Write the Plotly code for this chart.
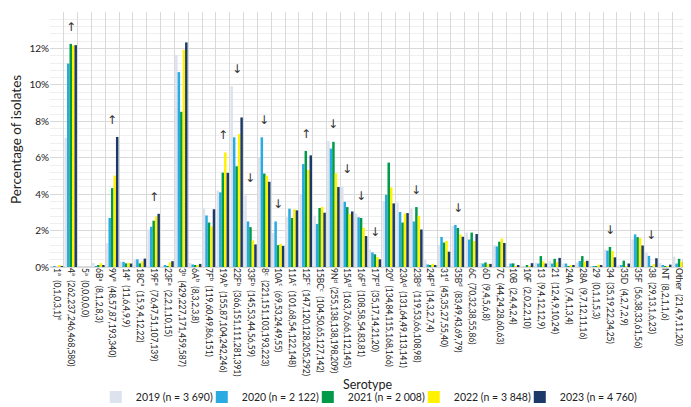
import plotly.graph_objects as go

# serotype names (with footnote letters) and the isolate counts shown in the labels
serotypes = [
    "1<sup>a</sup>", "4<sup>a</sup>", "5<sup>a</sup>", "6B<sup>a</sup>", "9V<sup>a</sup>",
    "14<sup>a</sup>", "18C<sup>a</sup>", "19F<sup>a</sup>", "23F<sup>a</sup>",
    "3<sup>b</sup>", "6A<sup>b</sup>", "7F<sup>b</sup>", "19A<sup>b</sup>", "22F<sup>b</sup>",
    "33F<sup>b</sup>", "8<sup>c</sup>", "10A<sup>c</sup>", "11A<sup>c</sup>", "12F<sup>c</sup>",
    "15BC<sup>c</sup>", "9N<sup>d</sup>", "15A<sup>d</sup>", "16F<sup>d</sup>", "17F<sup>d</sup>",
    "20<sup>d</sup>", "23A<sup>d</sup>", "23B<sup>d</sup>", "24F<sup>d</sup>", "31<sup>d</sup>",
    "35B<sup>d</sup>", "6C", "6D", "7C", "10B", "10F", "13", "21", "24A", "28A", "29",
    "34", "35D", "35F", "38", "NT", "Other",
]
counts = [
    "(0,1,0,3,1)<sup>e</sup>", "(262,237,246,468,580)", "(0,0,0,0,0)", "(8,1,2,8,3)",
    "(48,57,87,193,340)", "(11,6,4,9,9)", "(15,9,4,12,22)", "(76,47,51,107,139)",
    "(2,2,1,10,15)", "(429,227,171,459,587)", "(8,3,2,3,8)", "(119,60,49,86,151)",
    "(155,87,104,242,246)", "(366,151,111,281,391)", "(145,53,44,56,59)",
    "(221,151,103,193,223)", "(69,53,24,49,55)", "(101,68,54,122,148)",
    "(147,120,128,205,292)", "(104,50,65,127,142)", "(255,138,138,198,209)",
    "(163,76,66,112,145)", "(108,58,54,83,81)", "(35,17,14,21,20)",
    "(134,84,115,168,166)", "(131,64,49,113,141)", "(119,53,66,108,98)",
    "(14,3,2,7,4)", "(45,35,27,55,40)", "(83,49,43,69,79)", "(70,32,38,55,86)",
    "(9,4,5,6,8)", "(44,24,28,60,63)", "(2,4,4,2,4)", "(2,0,2,2,10)", "(9,4,12,12,9)",
    "(12,4,9,10,24)", "(7,4,1,3,4)", "(9,7,12,11,16)", "(0,1,1,5,3)",
    "(35,19,22,34,25)", "(4,2,7,2,9)", "(56,38,33,61,56)", "(29,13,1,6,23)",
    "(8,2,1,1,6)", "(21,4,9,11,20)",
]
# trend marker shown above some groups
trend = [
    "", "up", "", "", "up", "", "", "up", "", "", "", "", "up", "down", "down",
    "down", "down", "", "up", "", "down", "down", "down", "down", "", "", "down",
    "", "", "down", "", "", "", "", "", "", "", "", "", "", "down", "", "", "down",
    "", "",
]

# percentage of isolates per year
pct_2019 = [0.00, 7.10, 0.00, 0.22, 1.30, 0.30, 0.41, 2.06, 0.05, 11.63, 0.22, 3.22,
            4.20, 9.92, 3.93, 5.99, 1.87, 2.74, 3.98, 2.82, 6.91, 4.42, 2.93, 0.95,
            3.63, 3.55, 3.22, 0.38, 1.22, 2.25, 1.90, 0.24, 1.19, 0.05, 0.05, 0.24,
            0.33, 0.19, 0.24, 0.00, 0.95, 0.11, 1.52, 0.79, 0.22, 0.57]
pct_2020 = [0.05, 11.17, 0.00, 0.05, 2.69, 0.28, 0.42, 2.21, 0.09, 10.70, 0.14, 2.83,
            4.10, 7.12, 2.50, 7.12, 2.50, 3.20, 5.65, 2.36, 6.50, 3.58, 2.73, 0.80,
            3.96, 3.02, 2.50, 0.14, 1.65, 2.31, 1.51, 0.19, 1.13, 0.19, 0.00, 0.19,
            0.19, 0.19, 0.33, 0.05, 0.90, 0.09, 1.79, 0.61, 0.09, 0.19]
pct_2021 = [0.00, 12.25, 0.00, 0.10, 4.33, 0.20, 0.20, 2.54, 0.05, 8.52, 0.10, 2.44,
            5.18, 5.53, 2.19, 5.13, 1.20, 2.69, 6.37, 3.24, 6.87, 3.29, 2.69, 0.70,
            5.73, 2.44, 3.29, 0.10, 1.34, 2.14, 1.89, 0.25, 1.39, 0.20, 0.10, 0.60,
            0.45, 0.05, 0.60, 0.05, 1.10, 0.35, 1.64, 0.05, 0.05, 0.45]
pct_2022 = [0.08, 12.16, 0.00, 0.21, 5.02, 0.23, 0.31, 2.78, 0.26, 11.93, 0.08, 2.23,
            6.29, 7.30, 1.46, 5.02, 1.27, 3.17, 5.33, 3.30, 5.15, 2.91, 2.16, 0.55,
            4.37, 2.94, 2.81, 0.18, 1.43, 1.79, 1.43, 0.16, 1.56, 0.05, 0.05, 0.31,
            0.26, 0.08, 0.29, 0.13, 0.88, 0.05, 1.59, 0.16, 0.03, 0.29]
pct_2023 = [0.02, 12.18, 0.00, 0.06, 7.14, 0.19, 0.46, 2.92, 0.32, 12.33, 0.17, 3.17,
            5.17, 8.21, 1.24, 4.68, 1.16, 3.11, 6.13, 2.98, 4.39, 3.05, 1.70, 0.42,
            3.49, 2.96, 2.06, 0.08, 0.84, 1.66, 1.81, 0.17, 1.32, 0.08, 0.21, 0.19,
            0.50, 0.08, 0.34, 0.06, 0.53, 0.19, 1.18, 0.48, 0.13, 0.42]

years = [
    ("2019 (n = 3 690)", pct_2019, "#DCE3EE"),
    ("2020 (n = 2 122)", pct_2020, "#29ABE2"),
    ("2021 (n = 2 008)", pct_2021, "#009A49"),
    ("2022 (n = 3 848)", pct_2022, "#FFF200"),
    ("2023 (n = 4 760)", pct_2023, "#1C3A68"),
]

labels = [f"{s}  {c}" for s, c in zip(serotypes, counts)]

fig = go.Figure()
for i, (name, vals, color) in enumerate(years):
    fig.add_trace(go.Bar(x=labels, y=vals, name=name, marker_color=color,
                         marker_line_width=0,
                         # last legend entry needs room so its text isn't clipped
                         legendwidth=85 if i == len(years) - 1 else None))

# up/down arrows a little above the tallest bar of the group
for i, t in enumerate(trend):
    if not t:
        continue
    top = max(p[i] for _, p, _ in years)
    fig.add_annotation(x=labels[i], y=top + 0.95, text="↑" if t == "up" else "↓",
                       showarrow=False,
                       font=dict(family="DejaVu Sans", size=12, color="#333333"))

fig.add_annotation(text="Serotype", xref="paper", yref="paper", x=0.5, y=-0.46,
                   showarrow=False, yanchor="middle", font=dict(size=12.5))

# page has an 8px body margin, so the figure is a bit smaller than the window
fig.update_layout(
    width=683,
    height=399,
    margin=dict(l=42, r=5, t=4, b=140, autoexpand=False),
    paper_bgcolor="white",
    plot_bgcolor="white",
    font=dict(family="Lato, Open Sans, sans-serif", color="#222222", size=10),
    barmode="group",
    bargap=0.1,
    bargroupgap=0,
    showlegend=True,
    legend=dict(orientation="h", x=0.072, xanchor="left", y=-0.51, yanchor="middle",
                font=dict(size=10.5), entrywidth=61, entrywidthmode="pixels",
                traceorder="normal"),
    xaxis=dict(
        type="category",
        tickangle=90,
        tickson="boundaries",
        showgrid=True,
        gridcolor="#D9D9D9",
        ticks="",
        tickfont=dict(size=8.5),
        showline=False,
        automargin=False,
    ),
    yaxis=dict(
        range=[0, 14],
        dtick=2,
        ticksuffix="%",
        showgrid=True,
        gridcolor="#D9D9D9",
        gridwidth=1,
        minor=dict(dtick=0.4, showgrid=True, gridcolor="#EFEFEF"),
        zeroline=True,
        zerolinecolor="#D9D9D9",
        tickfont=dict(size=10),
        automargin=False,
        title=dict(text="Percentage of isolates", font=dict(size=13.5), standoff=5),
    ),
)

fig.write_html("out.html")
